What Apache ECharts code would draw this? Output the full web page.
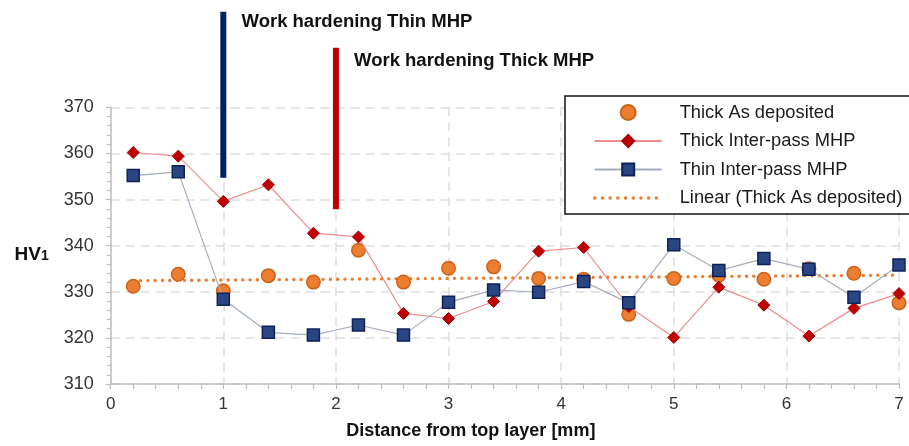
<!DOCTYPE html>
<html>
<head>
<meta charset="utf-8">
<script src="https://cdn.jsdelivr.net/npm/echarts@6/dist/echarts.min.js"></script>
<style>html,body{margin:0;padding:0;background:#fff;}#c{width:909px;height:446px;}</style>
</head>
<body>
<div id="c"></div>
<script>
// ---- data ----
const distance = [0.2, 0.6, 1.0, 1.4, 1.8, 2.2, 2.6, 3.0, 3.4, 3.8, 4.2, 4.6, 5.0, 5.4, 5.8, 6.2, 6.6, 7.0];
const thickAsDeposited = [331.2, 333.8, 330.2, 333.5, 332.1, 339.0, 332.1, 335.1, 335.4, 332.9, 332.7, 325.1, 332.9, 333.6, 332.7, 335.0, 334.0, 327.6];
const thickInterPass = [360.2, 359.4, 349.6, 353.2, 342.7, 341.9, 325.3, 324.2, 327.9, 338.8, 339.6, 326.8, 320.1, 331.0, 327.1, 320.4, 326.4, 329.6];
const thinInterPass = [355.2, 356.0, 328.4, 321.2, 320.6, 322.8, 320.6, 327.7, 330.4, 329.9, 332.2, 327.6, 340.2, 334.6, 337.2, 334.9, 328.8, 335.8];
const trendX = [0.2, 7.0];
const trendY = [332.4, 333.6];
const thinMarkerX = [1.0, 1.0];
const thinMarkerY = [354.7, 390.7];
const thickMarkerX = [2.0, 2.0];
const thickMarkerY = [347.9, 382.9];
const xTicks = [0, 1, 2, 3, 4, 5, 6, 7];
const yTicks = [310, 320, 330, 340, 350, 360, 370];
const seriesNames = ['Thick As deposited', 'Thick Inter-pass MHP', 'Thin Inter-pass MHP', 'Linear (Thick As deposited)'];

const zip = (xs, ys) => xs.map((x, i) => [x, ys[i]]);
const FONT = 'Arial, "Liberation Sans", sans-serif';
const trendLineStyle = {color: '#ED7D31', width: 3.4, type: [0.1, 7.2], cap: 'round'};

const chart = echarts.init(document.getElementById('c'), null, {renderer: 'canvas'});
chart.setOption({
  animation: false,
  backgroundColor: '#ffffff',
  grid: {left: 110.7, right: 10, top: 107.3, bottom: 62, containLabel: false},
  xAxis: {
    type: 'value',
    min: xTicks[0], max: xTicks[xTicks.length - 1], interval: 1,
    name: 'Distance from top layer [mm]',
    nameLocation: 'middle', nameGap: 38,
    nameTextStyle: {fontFamily: FONT, fontSize: 18, fontWeight: 'bold', color: '#111', padding: [0, 68, 0, 0]},
    axisLine: {lineStyle: {color: '#BFBFBF', width: 1.5}},
    axisTick: {show: true, inside: false, length: 5, lineStyle: {color: '#BFBFBF', width: 1.2}},
    minorTick: {show: true, splitNumber: 5, length: 5, lineStyle: {color: '#BFBFBF', width: 1.2}},
    axisLabel: {fontFamily: FONT, fontSize: 17, color: '#333', margin: 12},
    splitLine: {show: true, lineStyle: {color: '#DDDDDD', width: 1.5, type: [9, 6]}}
  },
  yAxis: {
    type: 'value',
    min: yTicks[0], max: yTicks[yTicks.length - 1], interval: 10,
    name: '{a|HV}{b|1}',
    nameLocation: 'middle', nameRotate: 0, nameGap: 62,
    nameTextStyle: {
      padding: [18, 0, 0, 0],
      rich: {
        a: {fontFamily: FONT, fontSize: 19, fontWeight: 'bold', color: '#111', verticalAlign: 'bottom'},
        b: {fontFamily: FONT, fontSize: 14, fontWeight: 'bold', color: '#111', verticalAlign: 'bottom', padding: [0, 0, 1, 0]}
      }
    },
    axisLine: {show: true, lineStyle: {color: '#BFBFBF', width: 1.5}},
    axisTick: {show: true, length: 5, lineStyle: {color: '#BFBFBF', width: 1.2}},
    minorTick: {show: true, splitNumber: 5, length: 4, lineStyle: {color: '#BFBFBF', width: 1.2}},
    axisLabel: {fontFamily: FONT, fontSize: 18, color: '#333', margin: 17},
    splitLine: {show: true, lineStyle: {color: '#DDDDDD', width: 1.5, type: [9, 6]}}
  },
  legend: {
    data: [
      seriesNames[0],
      seriesNames[1],
      seriesNames[2],
      {name: seriesNames[3], itemStyle: {opacity: 0}, lineStyle: {color: '#ED7D31', width: 3.4, type: [0.1, 7.6], cap: 'round'}}
    ],
    orient: 'vertical',
    left: 565, top: 96,
    backgroundColor: '#ffffff',
    borderColor: '#111', borderWidth: 1.5, borderRadius: 0,
    padding: [7.5, 12, 7, 28],
    itemWidth: 67, itemHeight: 15, itemGap: 10.5,
    textStyle: {fontFamily: FONT, fontSize: 18.3, color: '#1a1a1a', lineHeight: 18, padding: [0, 0, 0, 13]}
  },
  series: [
    {
      name: seriesNames[0], type: 'scatter', z: 3,
      data: zip(distance, thickAsDeposited),
      symbol: 'circle', symbolSize: 13.5,
      itemStyle: {color: '#ED7D31', borderColor: '#C9651B', borderWidth: 1.5, opacity: 1}
    },
    {
      name: seriesNames[1], type: 'line', z: 4,
      data: zip(distance, thickInterPass),
      symbol: 'diamond', symbolSize: 12, showSymbol: true,
      lineStyle: {color: '#EC8C8C', width: 1.2},
      itemStyle: {color: '#C00000', borderColor: '#A50000', borderWidth: 1}
    },
    {
      name: seriesNames[2], type: 'line', z: 5,
      data: zip(distance, thinInterPass),
      symbol: 'rect', symbolSize: 12, showSymbol: true,
      lineStyle: {color: '#A3ADBF', width: 1.2},
      itemStyle: {color: '#2A4583', borderColor: '#0F2258', borderWidth: 1.5}
    },
    {
      name: seriesNames[3], type: 'line', z: 2,
      data: zip(trendX, trendY),
      symbol: 'none', showSymbol: false,
      lineStyle: trendLineStyle,
      itemStyle: {color: '#ED7D31'}
    },
    {
      name: 'thinMarker', type: 'line', z: 6, clip: false, silent: true,
      data: zip(thinMarkerX, thinMarkerY),
      symbol: 'none',
      lineStyle: {color: '#002060', width: 6, cap: 'butt'}
    },
    {
      name: 'thickMarker', type: 'line', z: 6, clip: false, silent: true,
      data: zip(thickMarkerX, thickMarkerY),
      symbol: 'none',
      lineStyle: {color: '#C00000', width: 6, cap: 'butt'}
    }
  ],
  graphic: [
    {type: 'text', left: 241.5, top: 12, silent: true,
     style: {text: 'Work hardening Thin MHP', font: 'bold 18.5px ' + FONT, fill: '#111'}},
    {type: 'text', left: 354, top: 51.5, silent: true,
     style: {text: 'Work hardening Thick MHP', font: 'bold 18.5px ' + FONT, fill: '#111'}}
  ]
});
</script>
</body>
</html>
